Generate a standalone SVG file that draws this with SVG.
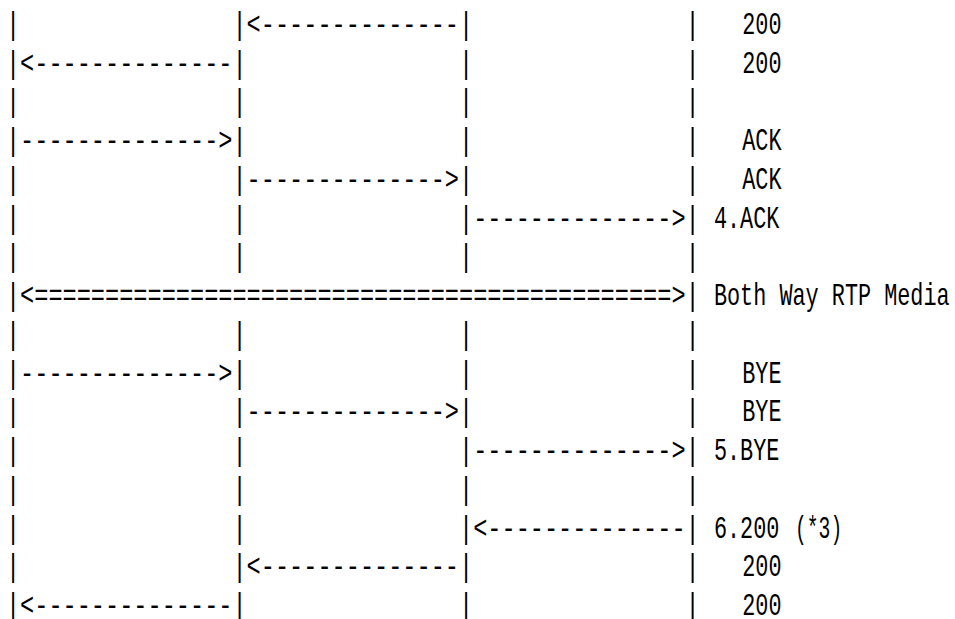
<svg xmlns="http://www.w3.org/2000/svg" width="955" height="619" viewBox="0 0 955 619">
<style>
  text { font-family: "Liberation Mono", "DejaVu Sans Mono", monospace; font-size: 32px; fill: #000; white-space: pre; }
</style>
<rect width="955" height="619" fill="#fff"/>
<g transform="translate(5.9,-1) scale(0.7375,1)">
  <g id="connectors" xml:space="preserve">
    <text x="0" y="35">|               |&lt;--------------|               |</text>
    <text x="0" y="73.75">|&lt;--------------|               |               |</text>
    <text x="0" y="112.5">|               |               |               |</text>
    <text x="0" y="151.25">|--------------&gt;|               |               |</text>
    <text x="0" y="190">|               |--------------&gt;|               |</text>
    <text x="0" y="228.75">|               |               |--------------&gt;|</text>
    <text x="0" y="267.5">|               |               |               |</text>
    <text x="0" y="306.25">|&lt;=============================================&gt;|</text>
    <text x="0" y="345">|               |               |               |</text>
    <text x="0" y="383.75">|--------------&gt;|               |               |</text>
    <text x="0" y="422.5">|               |--------------&gt;|               |</text>
    <text x="0" y="461.25">|               |               |--------------&gt;|</text>
    <text x="0" y="500">|               |               |               |</text>
    <text x="0" y="538.75">|               |               |&lt;--------------|</text>
    <text x="0" y="577.5">|               |&lt;--------------|               |</text>
    <text x="0" y="616.25">|&lt;--------------|               |               |</text>
  </g>
  <g id="labels">
    <text id="l1" x="998.4" y="35" textLength="53.3" lengthAdjust="spacingAndGlyphs">200</text>
    <text id="l2" x="998.4" y="73.75" textLength="53.3" lengthAdjust="spacingAndGlyphs">200</text>
    <text id="l4" x="998.4" y="151.25" textLength="53.3" lengthAdjust="spacingAndGlyphs">ACK</text>
    <text id="l5" x="998.4" y="190" textLength="53.3" lengthAdjust="spacingAndGlyphs">ACK</text>
    <text id="l6" x="960" y="228.75" textLength="88.8" lengthAdjust="spacingAndGlyphs">4.ACK</text>
    <text id="l8" x="960" y="306.25" textLength="319.7" lengthAdjust="spacingAndGlyphs">Both Way RTP Media</text>
    <text id="l10" x="998.4" y="383.75" textLength="53.3" lengthAdjust="spacingAndGlyphs">BYE</text>
    <text id="l11" x="998.4" y="422.5" textLength="53.3" lengthAdjust="spacingAndGlyphs">BYE</text>
    <text id="l12" x="960" y="461.25" textLength="88.8" lengthAdjust="spacingAndGlyphs">5.BYE</text>
    <g id="l14">
      <text x="960" y="538.75" textLength="88.8" lengthAdjust="spacingAndGlyphs">6.200</text>
      <text x="1070" y="538.75" textLength="64" lengthAdjust="spacingAndGlyphs">(*3)</text>
    </g>
    <text id="l15" x="998.4" y="577.5" textLength="53.3" lengthAdjust="spacingAndGlyphs">200</text>
    <text id="l16" x="998.4" y="616.25" textLength="53.3" lengthAdjust="spacingAndGlyphs">200</text>
  </g>
</g>
</svg>
